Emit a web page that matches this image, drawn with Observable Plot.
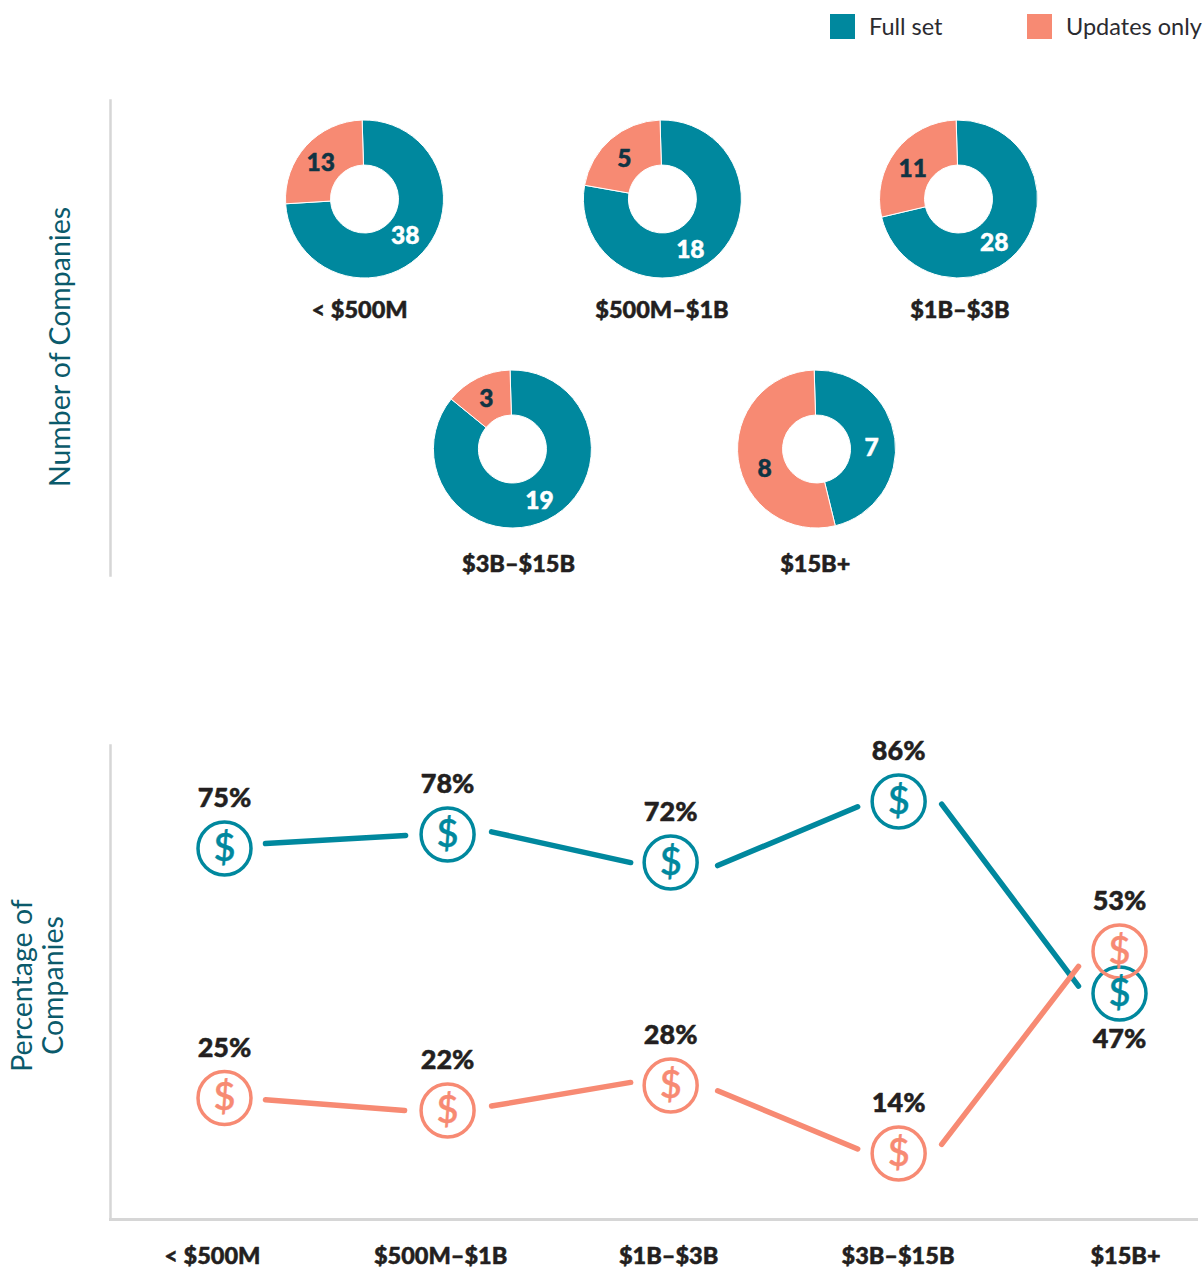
<!DOCTYPE html>
<html>
<head>
<meta charset="utf-8">
<script src="https://cdn.jsdelivr.net/npm/d3@7"></script>
<script src="https://cdn.jsdelivr.net/npm/@observablehq/plot@0.6"></script>
<style>
html,body{margin:0;padding:0;background:#fff;width:1204px;overflow:hidden}
#legend{position:relative;height:60px;font:400 23.5px Lato,sans-serif;color:#2b2b30}
#legend .sw{position:absolute;top:14px;width:25px;height:25px}
#legend .lb{position:absolute;top:14px;line-height:25px;white-space:nowrap}
svg{display:block}
</style>
</head>
<body>
<div id="legend"></div>
<div id="chart"></div>
<script>
const categories = ["< $500M", "$500M–$1B", "$1B–$3B", "$3B–$15B", "$15B+"];
const seriesNames = ["Full set", "Updates only"];
const seriesColors = ["#00889e", "#f78a73"];
// Number of companies
const fullCounts = [38, 18, 28, 19, 7];
const updateCounts = [13, 5, 11, 3, 8];
// Percentage of companies
const fullPct = [75, 78, 72, 86, 47];
const updatePct = [25, 22, 28, 14, 53];
// Grid slots of the donuts, captions, line-chart columns and axis labels
const donutCol = [0, 1.003, 2, 0.498, 1.522];
const donutRow = [0, 0, 0, 1, 1];
const captionCol = [-0.018, 1.0, 2.003, 0.517, 1.516];
const captionRow = [0, 0, 0, 1.016, 1.016];
const columnSlot = [0, 0.997, 1.994, 3.013, 4];
const axisSlot = [-0.054, 0.966, 1.985, 3.01, 4.027];
// Small nudges of the numbers inside the rings
const nudgeFull = [[-1, -2], [-9, 8], [-9, 9], [2, 1], [-1, 6]];
const nudgeUpdate = [[-2, 2], [-1, 2], [-1, 4], [-1, 0], [4, 12]];
// Connector ends, as [start dx, start dy, end dx, end dy] away from the icon centres
const gapsFull = [[41, -5, -42, 1], [44, -3, -40, 0], [47, 3, -41, 6], [43, 3, -41, -5]];
const gapsUpdate = [[41, 2, -43, 0], [44, -5, -40, -3], [47, 6, -41, -4], [43, -8, -41, 10]];

const font = "Lato, sans-serif";
const ink = "#231f20";
const axisInk = "#0b5a6b";
const numInk = "#0f3443";
const spine = "#d6d6d6";

// Legend
const legend = document.getElementById("legend");
[[830, 869], [1027, 1066]].forEach(([sx, lx], i) => {
  legend.insertAdjacentHTML("beforeend",
    `<div class="sw" style="left:${sx}px;background:${seriesColors[i]}"></div>` +
    `<div class="lb" style="left:${lx}px">${seriesNames[i]}</div>`);
});

const color = {domain: seriesNames, range: seriesColors};

// Donuts
const outerR = 79, innerR = 34, turn = -0.03;
const donuts = categories.map((c, i) => ({
  c, i, col: donutCol[i], row: donutRow[i], values: [fullCounts[i], updateCounts[i]]
}));
const pie = d3.pie().sort(null).startAngle(turn).endAngle(2 * Math.PI + turn);
const arc = d3.arc().innerRadius(innerR).outerRadius(outerR);
const slices = donuts.flatMap(d => pie(d.values).map((a, j) => ({
  ...d, a, name: seriesNames[j], value: d.values[j], nudge: (j === 0 ? nudgeFull : nudgeUpdate)[d.i]
})));

function donutMark(index, scales) {
  const g = d3.create("svg:g");
  g.selectAll("path").data(slices).join("path")
    .attr("transform", d => `translate(${scales.x(d.col)},${scales.y(d.row)})`)
    .attr("d", d => arc(d.a))
    .attr("fill", d => scales.color(d.name))
    .attr("stroke", "#fff")
    .attr("stroke-width", 1);
  g.selectAll("text").data(slices).join("text")
    .attr("transform", d => {
      const [cx, cy] = arc.centroid(d.a);
      return `translate(${scales.x(d.col) + cx + d.nudge[0]},${scales.y(d.row) + cy + d.nudge[1]})`;
    })
    .attr("text-anchor", "middle").attr("dy", "0.35em")
    .attr("font-family", font).attr("font-weight", 900).attr("font-size", 24.5)
    .attr("fill", d => d.name === seriesNames[0] ? "#fff" : numInk)
    .attr("stroke", d => d.name === seriesNames[0] ? "#fff" : numInk)
    .attr("stroke-width", 0.5)
    .text(d => d.value);
  return g.node();
}

const topPlot = Plot.plot({
  width: 1204, height: 600, marginLeft: 110, marginTop: 40, marginBottom: 85, marginRight: 0,
  x: {domain: [0, 2], range: [364.5, 958.5], axis: null},
  y: {domain: [0, 1], range: [139, 389], axis: null},
  color,
  style: {background: "transparent"},
  marks: [
    Plot.frame({anchor: "left", stroke: spine, strokeWidth: 2.5, strokeOpacity: 1}),
    Plot.text(["Number of Companies"], {
      frameAnchor: "left", textAnchor: "middle", dx: -50, dy: 9, rotate: -90, fontSize: 28.5, fontFamily: font,
      fill: axisInk, text: d => d
    }),
    donutMark,
    Plot.text(categories, {
      x: (d, i) => captionCol[i], y: (d, i) => captionRow[i], dy: 111, text: d => d,
      fontSize: 23.5, fontWeight: 900, fontFamily: font, fill: ink, stroke: ink, strokeWidth: 0.5
    })
  ]
});

// Line chart
const rows = categories.flatMap((c, i) => [
  {slot: columnSlot[i], series: seriesNames[0], v: fullPct[i]},
  {slot: columnSlot[i], series: seriesNames[1], v: updatePct[i]}
]);
const unitX = 223.75, unitY = 4.7;
const segs = seriesNames.flatMap((s, k) => {
  const vals = k === 0 ? fullPct : updatePct;
  const gaps = k === 0 ? gapsFull : gapsUpdate;
  return gaps.map(([a, b, c, d], i) => ({
    series: s,
    x1: columnSlot[i] + a / unitX,
    y1: vals[i] - b / unitY,
    x2: columnSlot[i + 1] + c / unitX,
    y2: vals[i + 1] - d / unitY
  }));
});
const isLowLabel = d => d.series === seriesNames[0] && d.v === fullPct[4];
const pctStyle = {fontSize: 27, fontWeight: 900, fontFamily: font, fill: ink, stroke: ink, strokeWidth: 0.5};

const bottomPlot = Plot.plot({
  width: 1204, height: 610, marginLeft: 110, marginTop: 85, marginBottom: 51, marginRight: 8,
  x: {domain: [0, 4], range: [224, 1119], axis: null},
  y: {type: "linear", domain: [14, 22, 28, 47, 53, 78, 86], range: [493, 450, 425, 333, 291, 174, 141], axis: null},
  color,
  style: {background: "transparent"},
  marks: [
    Plot.frame({anchor: "left", stroke: spine, strokeWidth: 2.5, strokeOpacity: 1}),
    Plot.frame({anchor: "bottom", stroke: spine, strokeWidth: 3, strokeOpacity: 1}),
    Plot.text(["Percentage of\nCompanies"], {
      frameAnchor: "left", textAnchor: "middle", dx: -73, dy: 3, rotate: -90, fontSize: 28.5, fontFamily: font,
      fill: axisInk, text: d => d, lineHeight: 1.09
    }),
    Plot.link(segs, {
      x1: "x1", y1: "y1", x2: "x2", y2: "y2", stroke: "series", strokeWidth: 5.5, strokeLinecap: "round"
    }),
    Plot.dot(rows, {x: "slot", y: "v", r: 26.5, stroke: "series", strokeWidth: 3.5, fill: "none"}),
    Plot.text(rows, {
      x: "slot", y: "v", text: () => "$", fill: "series", stroke: "series", strokeWidth: 0.3,
      fontSize: 38, fontWeight: 600, fontFamily: font
    }),
    Plot.text(rows.filter(d => !isLowLabel(d)), {x: "slot", y: "v", dy: -50, text: d => d.v + "%", ...pctStyle}),
    Plot.text(rows.filter(isLowLabel), {x: "slot", y: "v", dy: 46, text: d => d.v + "%", ...pctStyle}),
    Plot.text(categories, {
      x: (d, i) => axisSlot[i], frameAnchor: "bottom", lineAnchor: "middle", dy: 37, text: d => d,
      fontSize: 23.5, fontWeight: 900, fontFamily: font, fill: ink, stroke: ink, strokeWidth: 0.5
    })
  ]
});

document.getElementById("chart").append(topPlot, bottomPlot);
</script>
</body>
</html>
